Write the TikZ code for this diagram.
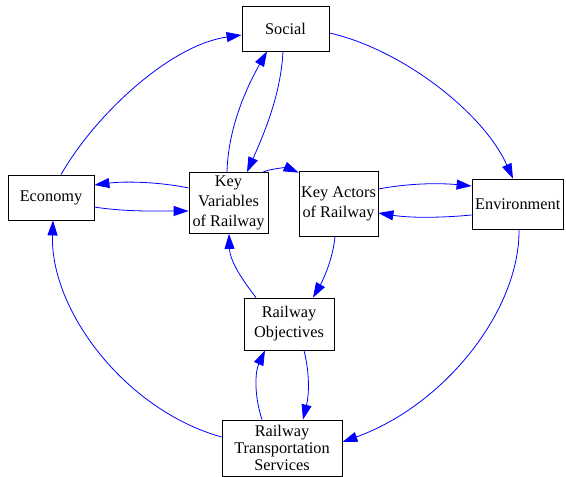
\documentclass[tikz,border=0pt]{standalone}
\usepackage{fontspec}
\setmainfont{Liberation Serif}
\usetikzlibrary{arrows.meta,calc}
\begin{document}
\begin{tikzpicture}[x=1pt,y=-1pt,
  box/.style={draw=black,line width=0.8pt,rectangle,inner sep=0pt,align=center,
    font=\fontsize{16.3}{20}\selectfont},
  link/.style={draw=blue,line width=0.8pt,-{Triangle[length=15pt,width=10pt]}}]
\useasboundingbox (0,0) rectangle (566,477);
\node[box,minimum width=87pt,minimum height=45pt] (soc) at (285.5,28.5) {Social};
\node[box,minimum width=86pt,minimum height=45pt] (eco) at (51,197.5) {Economy};
\node[box,minimum width=79pt,minimum height=61pt] (kv) at (228.5,203) {Key\\Variables\\of Railway};
\node[box,minimum width=79pt,minimum height=65pt] (ka) at (338.5,203.5) {Key Actors\\of Railway};
\node[box,minimum width=91.5pt,minimum height=50pt] (env) at (517.75,204) {Environment};
\node[box,minimum width=90pt,minimum height=52pt] (ro) at (289,324) {Railway\\Objectives};
\node[box,minimum width=120pt,minimum height=56pt,font=\fontsize{16.3}{17}\selectfont] (rts) at (282,448) {Railway\\Transportation\\Services};

% outer cycle
\draw[link] ($(eco.north)+(10,0)$) .. controls (95,115) and (170,45) .. ($(soc.west)+(0,6.5)$);
\draw[link] ($(soc.east)+(0,4.5)$) .. controls (398,48) and (482,110) .. ($(env.north)+(-4.75,0)$);
\draw[link] ($(env.south)+(1.25,0)$) .. controls (520,310) and (445,405) .. ($(rts.east)+(0,-6)$);
\draw[link] ($(rts.west)+(0,-11)$) .. controls (125,410) and (50,310) .. ($(eco.south)+(2,0)$);

% economy <-> key variables
\draw[link] ($(eco.east)+(0,9.5)$) .. controls (125,212) and (160,211) .. ($(kv.west)+(0,8)$);
\draw[link] ($(kv.west)+(0,-15)$) .. controls (160,182) and (125,181) .. ($(eco.east)+(0,-12.5)$);

% key variables <-> social
\draw[link] ($(kv.north)+(-1.5,0)$) .. controls (228,130) and (245,90) .. ($(soc.south)+(-18.5,0)$);
\draw[link] ($(soc.south)+(-2.5,0)$) .. controls (281,90) and (268,125) .. ($(kv.north)+(18.5,0)$);

% key variables -> key actors
\draw[link] ($(kv.north)+(34.5,0)$) .. controls (272,168) and (288,168) .. ($(ka.north west)+(0,2)$);

% key actors <-> environment
\draw[link] ($(ka.east)+(0,-14.5)$) .. controls (410,183) and (440,183) .. ($(env.west)+(0,-18)$);
\draw[link] ($(env.west)+(0,11)$) .. controls (440,218) and (410,218) .. ($(ka.east)+(0,9.5)$);

% key actors -> objectives -> key variables
\draw[link] ($(ka.south)+(-3.5,0)$) .. controls (333,260) and (322,282) .. ($(ro.north)+(24,0)$);
\draw[link] ($(ro.north)+(-33,0)$) .. controls (244,282) and (230,262) .. ($(kv.south)+(0.5,0)$);

% objectives <-> services
\draw[link] ($(ro.south)+(15,0)$) .. controls (310,375) and (309,395) .. ($(rts.north)+(21,0)$);
\draw[link] ($(rts.north)+(-20,0)$) .. controls (254,395) and (255,372) .. ($(ro.south)+(-24,0)$);
\end{tikzpicture}
\end{document}
